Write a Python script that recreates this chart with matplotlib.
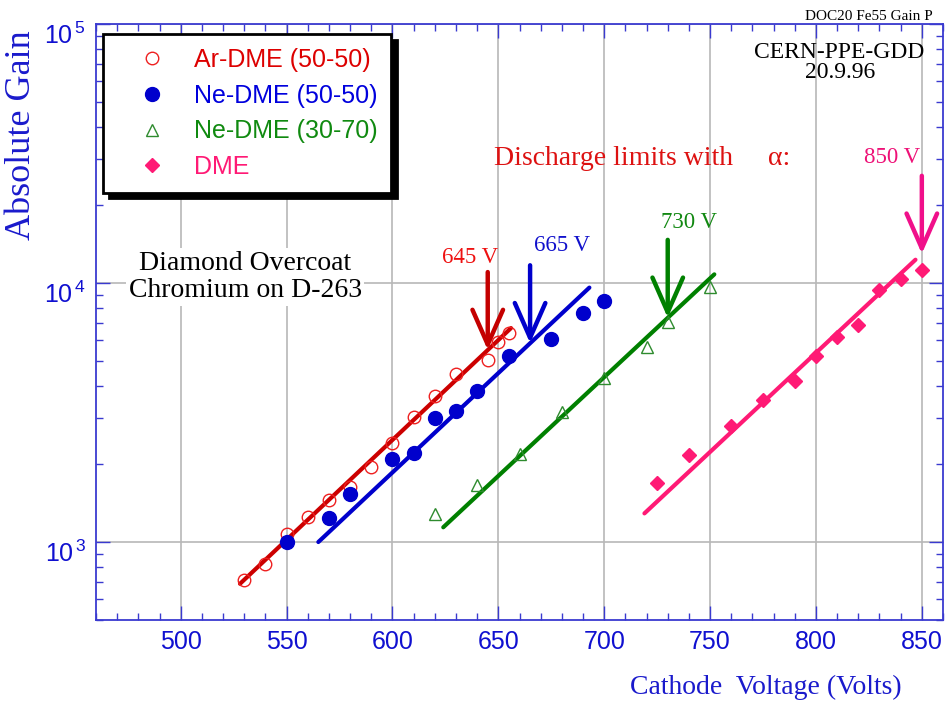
import numpy as np
import matplotlib
matplotlib.use('Agg')
import matplotlib.pyplot as plt
from matplotlib.ticker import FixedLocator, FixedFormatter, LogLocator, MultipleLocator, NullFormatter
from matplotlib.transforms import ScaledTranslation

plt.rcParams['font.family'] = 'Liberation Sans'
plt.rcParams['mathtext.fontset'] = 'custom'
plt.rcParams['mathtext.rm'] = 'Liberation Sans'

# measured gain vs cathode voltage
ar_volts = [530, 540, 550, 560, 570, 580, 590, 600, 610, 620, 630, 645, 650, 655]
ar_gain = [715, 822, 1074, 1246, 1452, 1635, 1943, 2410, 3030, 3678, 4434, 5058, 5902, 6396]

ne50_volts = [550, 570, 580, 600, 610, 620, 630, 640, 655, 675, 690, 700]
ne50_gain = [1003, 1238, 1528, 2092, 2206, 3020, 3196, 3819, 5236, 6078, 7637, 8496]

ne30_volts = [620, 640, 660, 680, 700, 720, 730, 750]
ne30_gain = [1282, 1660, 2187, 3186, 4285, 5660, 7068, 9614]

dme_volts = [725, 740, 760, 775, 790, 800, 810, 820, 830, 840, 850]
dme_gain = [1685, 2168, 2812, 3524, 4174, 5236, 6166, 6898, 9374, 10360, 11257]

# exponential fits (end points of the drawn lines)
ar_fit_volts = [528, 656]
ar_fit_gain = [690, 6700]
ne50_fit_volts = [565, 693]
ne50_fit_gain = [1000, 9600]
ne30_fit_volts = [624, 752]
ne30_fit_gain = [1140, 10800]
dme_fit_volts = [719, 847]
dme_fit_gain = [1290, 12300]

# discharge limits
limit_volts = [645, 665, 730, 850]
limit_labels = ['645 V', '665 V', '730 V', '850 V']

series_labels = ['Ar-DME (50-50)', 'Ne-DME (50-50)', 'Ne-DME (30-70)', 'DME']

x_ticks = [500, 550, 600, 650, 700, 750, 800, 850]
y_ticks = [1e3, 1e4, 1e5]
y_tick_labels = [r'$\mathrm{10^{\,3}}$', r'$\mathrm{10^{\,4}}$', r'$\mathrm{10^{\,5}}$']


def fit_gain(v, fv, fg):
    lg = np.log10(fg)
    slope = (lg[1] - lg[0]) / (fv[1] - fv[0])
    return 10 ** (lg[0] + slope * (v - fv[0]))


fig = plt.figure(figsize=(9.49, 7.04), dpi=100)
ax = fig.add_axes([96 / 949, 84 / 704, 847 / 949, 596 / 704])

series = [
    (ar_volts, ar_gain, ar_fit_volts, ar_fit_gain,
     dict(marker='o', ms=9, mfc='none', mec='#ee2020', mew=1.0), '#cc0000', '#c40000', '#ee1111', '#dd0000', (-18, 15)),
    (ne50_volts, ne50_gain, ne50_fit_volts, ne50_fit_gain,
     dict(marker='o', ms=10, mfc='#0000cc', mec='#0000cc'), '#0000cc', '#0000cc', '#1111cc', '#0000dd', (32, 20)),
    (ne30_volts, ne30_gain, ne30_fit_volts, ne30_fit_gain,
     dict(marker='^', ms=9, mfc='none', mec='#2e8b2e', mew=1.0), '#008000', '#008000', '#118811', '#108a10', (21, 17)),
    (dme_volts, dme_gain, dme_fit_volts, dme_fit_gain,
     dict(marker='D', ms=7, mfc='#ff1a75', mec='#ff1a75'), '#ff1a75', '#f0108a', '#ee1177', '#ff1a75', (-30, 18)),
]

handles = []
text_colors = []
for i, (v, g, fv, fg, mstyle, lcol, acol, tcol, legcol, off) in enumerate(series):
    ax.plot(fv, fg, color=lcol, lw=3, solid_capstyle='round', zorder=2)
    h, = ax.plot(v, g, ls='none', zorder=3, **mstyle)
    handles.append(h)
    text_colors.append(legcol)

    # arrow at the discharge limit, ending on the fit line
    tip = fit_gain(limit_volts[i], fv, fg)
    top = tip * 2.0
    ax.annotate('', xy=(limit_volts[i], tip), xytext=(limit_volts[i], top),
                arrowprops=dict(arrowstyle='->,head_length=1.25,head_width=0.55', color=acol,
                                lw=3.2, mutation_scale=20, shrinkA=0, shrinkB=0),
                zorder=4)
    ax.annotate(limit_labels[i], xy=(limit_volts[i], top), xytext=off, textcoords='offset pixels',
                ha='center', va='center', color=tcol, fontsize=16.5, family='Liberation Serif')

ax.set_xlim(460, 860)
ax.set_yscale('log')
ax.set_ylim(500, 1e5)

ax.xaxis.set_major_locator(FixedLocator(x_ticks))
ax.xaxis.set_minor_locator(MultipleLocator(10))
ax.yaxis.set_major_locator(FixedLocator(y_ticks))
ax.yaxis.set_major_formatter(FixedFormatter(y_tick_labels))
ax.yaxis.set_minor_locator(LogLocator(base=10, subs=np.arange(2, 10)))
ax.yaxis.set_minor_formatter(NullFormatter())

ax.grid(which='major', color='#b8b8b8', lw=1.2)
ax.set_axisbelow(True)
for sp in ax.spines.values():
    sp.set_color('#3a3ad0')
    sp.set_linewidth(1.3)
ax.tick_params(which='both', direction='in', top=True, right=True, color='#3a3ad0',
               labelcolor='#1010d0', labelsize=18)
ax.tick_params(which='major', length=10, width=1.0, pad=7)
ax.tick_params(which='minor', length=5, width=1.0)

# nudge the y labels down a little, as in the original
for t in ax.yaxis.get_major_ticks():
    t.label1.set_transform(t.label1.get_transform() + ScaledTranslation(0, -7 / 72, fig.dpi_scale_trans))

ax.set_xlabel('Cathode  Voltage (Volts)', family='Liberation Serif', fontsize=20, color='#1a1acc')
ax.xaxis.set_label_coords((902 - 96) / 847, (620 - 687) / 596)
ax.xaxis.label.set_ha('right')
ax.xaxis.label.set_va('center')
fig.text(22 / 949, (704 - 135) / 704, 'Absolute Gain', rotation=90, ha='center', va='center',
         family='Liberation Serif', fontsize=26, color='#1a1acc')

leg = ax.legend(handles, series_labels, loc='upper left', bbox_to_anchor=(0.0083, 0.9832),
                borderaxespad=0, fancybox=False, framealpha=1, numpoints=1, fontsize=18,
                handlelength=2.8, handletextpad=0.28, borderpad=0.55, labelspacing=0.47,
                labelcolor=text_colors,
                shadow={'ox': 4, 'oy': -4, 'facecolor': 'black', 'edgecolor': 'black', 'alpha': 1})
leg.get_frame().set_edgecolor('black')
leg.get_frame().set_linewidth(2)

ax.text(0.176, 0.5755, 'Diamond Overcoat\nChromium on D-263', transform=ax.transAxes,
        ha='center', va='center', family='Liberation Serif', fontsize=20, linespacing=1.15,
        bbox=dict(facecolor='white', edgecolor='none', pad=2))
ax.text(0.878, 0.9354, 'CERN-PPE-GDD\n20.9.96', transform=ax.transAxes, ha='center', va='center',
        family='Liberation Serif', fontsize=17, linespacing=0.95)
ax.text(0.6104, 0.775, 'Discharge limits with', transform=ax.transAxes, ha='center', va='center',
        family='Liberation Serif', fontsize=20, color='#dd1111')
ax.text(0.7934, 0.775, 'α:', transform=ax.transAxes, ha='left', va='center',
        family='Liberation Serif', fontsize=20, color='#dd1111')
fig.text(933 / 949, (704 - 17) / 704, 'DOC20 Fe55 Gain P', ha='right', va='center',
         family='Liberation Serif', fontsize=11)

fig.savefig('out.png', dpi=100)
